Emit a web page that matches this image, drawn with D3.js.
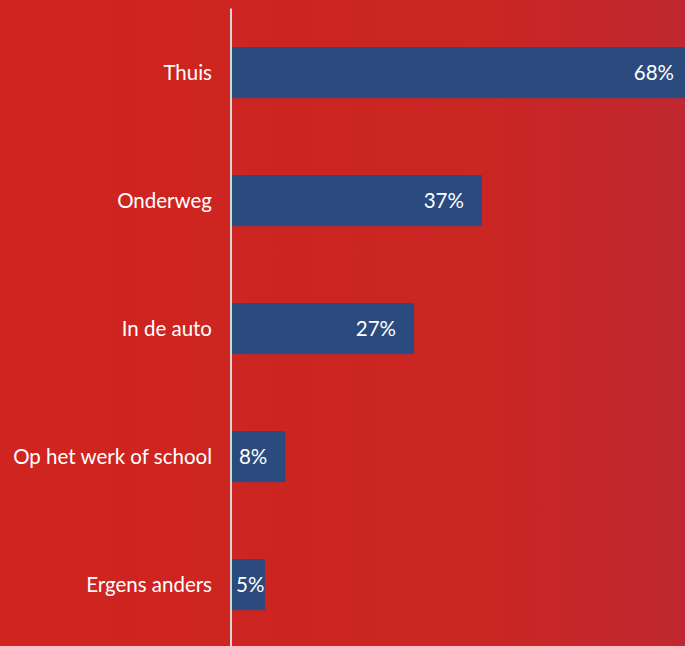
<!DOCTYPE html>
<html><head><meta charset="utf-8">
<script src="https://cdn.jsdelivr.net/npm/d3@7"></script>
<style>html,body{margin:0;padding:0;overflow:hidden;background:#cc2521}</style>
</head><body>
<svg id="c" width="685" height="646"></svg>
<script>
const categories = ["Thuis", "Onderweg", "In de auto", "Op het werk of school", "Ergens anders"];
const values = [68, 37, 27, 8, 5];
const valueLabels = ["68%", "37%", "27%", "8%", "5%"];

const W = 685, H = 646, x0 = 231;
const svg = d3.select("#c");
const defs = svg.append("defs");
const g = defs.append("linearGradient").attr("id", "bg").attr("x1", 0).attr("x2", 1).attr("y1", 0).attr("y2", 0);
g.append("stop").attr("offset", "0%").attr("stop-color", "#d0241f");
g.append("stop").attr("offset", "70%").attr("stop-color", "#ca2623");
g.append("stop").attr("offset", "100%").attr("stop-color", "#bf2830");
svg.append("rect").attr("width", W).attr("height", H).attr("fill", "url(#bg)");

const x = d3.scaleLinear().domain([0, 10]).range([x0, x0 + 67.8]);
const y = d3.scaleBand().domain(categories).range([8.6, 648.6]).paddingInner(0.6).paddingOuter(0.3);

const font = "Lato, 'Open Sans', sans-serif";
const fs = 20.5;
const data = categories.map((c, i) => ({c, v: values[i], l: valueLabels[i]}));

svg.selectAll("rect.bar").data(data).join("rect").attr("class", "bar")
  .attr("x", x0).attr("y", d => y(d.c))
  .attr("width", d => x(d.v) - x0).attr("height", y.bandwidth())
  .attr("fill", "#2b4a7e");

svg.append("line").attr("x1", x0).attr("x2", x0).attr("y1", 8.6).attr("y2", H)
  .attr("stroke", "#d6d6d6").attr("stroke-width", 2);

svg.selectAll("text.cat").data(data).join("text").attr("class", "cat")
  .attr("x", x0 - 19).attr("y", d => y(d.c) + y.bandwidth() / 2)
  .attr("dy", "0.35em").attr("text-anchor", "end")
  .attr("font-family", font).attr("font-size", fs).attr("fill", "#ffffff")
  .text(d => d.c);

const vl = svg.selectAll("text.val").data(data).join("text").attr("class", "val")
  .attr("y", d => y(d.c) + y.bandwidth() / 2)
  .attr("dy", "0.35em").attr("text-anchor", "end")
  .attr("font-family", font).attr("font-size", fs).attr("fill", "#ffffff")
  .text(d => d.l);
vl.each(function(d) {
  const w = this.getComputedTextLength();
  const end = Math.max(x(d.v) - 18, x0 + 5 + w);
  d3.select(this).attr("x", end);
});
</script>
</body></html>
